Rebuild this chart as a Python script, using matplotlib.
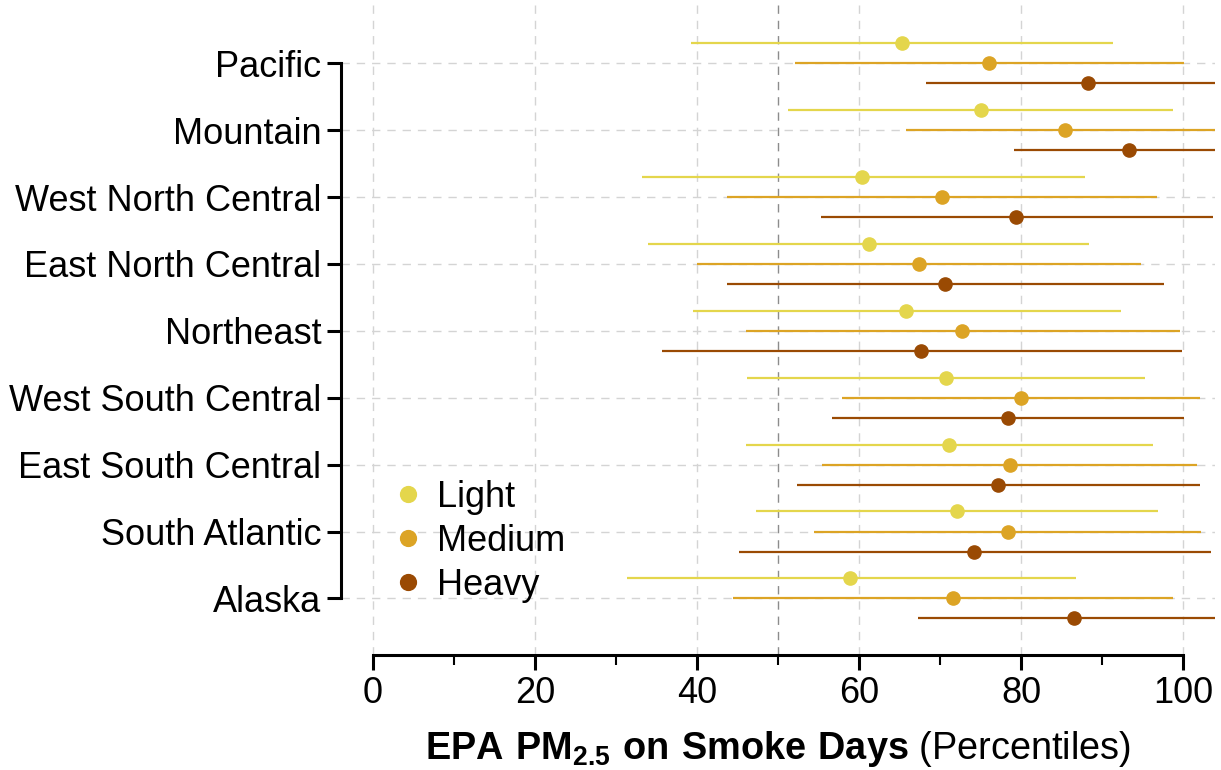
#!/usr/bin/env python3
import numpy as np
from matplotlib import pyplot as plt
from matplotlib.ticker import MultipleLocator

OUTPUT_FILE = "out.png"

REGIONS = [
    "Pacific",
    "Mountain",
    "West North Central",
    "East North Central",
    "Northeast",
    "West South Central",
    "East South Central",
    "South Atlantic",
    "Alaska",
]

# point estimates (percentiles), same order as REGIONS
LIGHT = [65.3, 75.0, 60.4, 61.2, 65.8, 70.7, 71.1, 72.1, 58.9]
MEDIUM = [76.1, 85.4, 70.2, 67.4, 72.7, 80.0, 78.6, 78.4, 71.6]
HEAVY = [88.3, 93.3, 79.4, 70.6, 67.7, 78.4, 77.2, 74.2, 86.6]

# interval bounds
LIGHT_LO = [39.2, 51.2, 33.2, 34.0, 39.5, 46.2, 46.0, 47.3, 31.3]
LIGHT_HI = [91.4, 98.8, 87.9, 88.4, 92.3, 95.3, 96.3, 96.9, 86.8]
MEDIUM_LO = [52.1, 65.8, 43.7, 40.0, 46.0, 57.9, 55.4, 54.5, 44.4]
MEDIUM_HI = [100.1, 106.0, 96.8, 94.8, 99.6, 102.1, 101.7, 102.2, 98.8]
HEAVY_LO = [68.3, 79.1, 55.3, 43.7, 35.7, 56.7, 52.4, 45.2, 67.3]
HEAVY_HI = [108.0, 107.0, 103.7, 97.6, 99.9, 100.1, 102.1, 103.5, 106.0]

SERIES = ["Light", "Medium", "Heavy"]
COLORS = {"Light": "#E4D64C", "Medium": "#DCA425", "Heavy": "#9A4A03"}
OFFSETS = {"Light": 0.3, "Medium": 0.0, "Heavy": -0.3}


def main():
    plt.rcParams["font.family"] = ["Liberation Sans", "DejaVu Sans"]
    plt.rcParams["mathtext.fontset"] = "custom"
    plt.rcParams["mathtext.rm"] = "Liberation Sans"
    plt.rcParams["mathtext.bf"] = "Liberation Sans:bold"

    fig = plt.figure(figsize=(12.21, 7.70), dpi=100)
    ax = fig.add_axes([0.279, 0.149, 0.7164, 0.8445])

    n = len(REGIONS)
    ypos = np.arange(n)[::-1]  # Pacific on top

    data = {
        "Light": (LIGHT, LIGHT_LO, LIGHT_HI),
        "Medium": (MEDIUM, MEDIUM_LO, MEDIUM_HI),
        "Heavy": (HEAVY, HEAVY_LO, HEAVY_HI),
    }

    # grid
    for y in ypos:
        ax.axhline(y, color="#d4d4d4", lw=1.0, ls=(0, (6, 5)), zorder=0)
    for x in range(0, 101, 20):
        ax.axvline(x, color="#d4d4d4", lw=1.0, ls=(0, (6, 5)), zorder=0)
    ax.axvline(50, color="#8c8c8c", lw=1.0, ls=(0, (6, 5)), zorder=0)

    for name in SERIES:
        est, lo, hi = data[name]
        yy = ypos + OFFSETS[name]
        ax.hlines(yy, lo, hi, color=COLORS[name], lw=1.6, zorder=2)
        ax.plot(est, yy, "o", color=COLORS[name], ms=9.5, zorder=3, label=name, lw=0)

    ax.set_xlim(-4, 104)
    ax.set_ylim(-0.85, 8.87)

    ax.set_yticks(ypos)
    ax.set_yticklabels(REGIONS, fontsize=26)
    ax.xaxis.set_major_locator(MultipleLocator(20))
    ax.xaxis.set_minor_locator(MultipleLocator(10))
    ax.tick_params(axis="x", which="major", labelsize=26, length=11, width=2.2, pad=4)
    ax.tick_params(axis="x", which="minor", length=7, width=1.5)
    ax.tick_params(axis="y", length=10, width=2.2, pad=4)

    for side in ["top", "right"]:
        ax.spines[side].set_visible(False)
    ax.spines["left"].set_bounds(0, n - 1)
    ax.spines["bottom"].set_bounds(0, 100)
    ax.spines["left"].set_linewidth(2.2)
    ax.spines["bottom"].set_linewidth(2.2)

    ax.set_xlabel(r"$\mathbf{EPA\ PM_{2.5}\ on\ Smoke\ Days}$ (Percentiles)", fontsize=27.3, labelpad=13)

    ax.legend(
        loc="upper left",
        bbox_to_anchor=(0.015, 0.32),
        frameon=False,
        fontsize=26,
        handletextpad=0.2,
        labelspacing=0.25,
        markerscale=1.2,
        handlelength=1.2,
    )

    plt.savefig(OUTPUT_FILE, dpi=100)


if __name__ == "__main__":
    main()
